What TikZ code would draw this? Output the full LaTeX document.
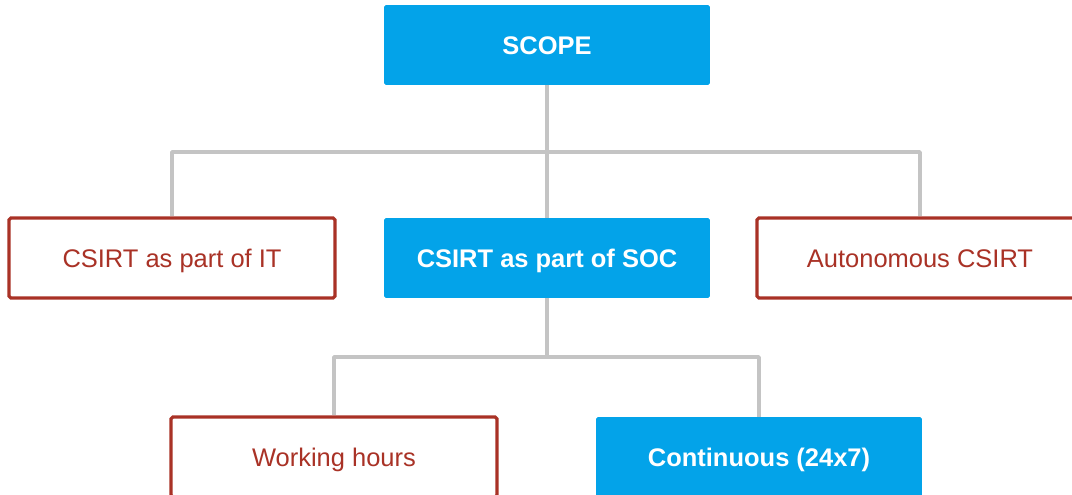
\documentclass[tikz,border=0pt]{standalone}
\usepackage{fontspec}
\setmainfont{Liberation Sans}
\usepackage{xcolor}
\usepackage{tikz}
\usetikzlibrary{positioning}

\definecolor{scopeblue}{HTML}{03A3E9}
\definecolor{optred}{HTML}{A93226}
\definecolor{linkgray}{HTML}{C4C4C4}

\begin{document}
\begin{tikzpicture}[x=0.02cm, y=-0.02cm,
    box/.style={rectangle, minimum width=6.52cm, minimum height=1.6cm, rounded corners=1pt, text height=10.4pt, text depth=0pt, font=\fontsize{14.5}{17}\selectfont},
    bluebox/.style={box, fill=scopeblue, text=white, font=\fontsize{14.5}{17}\selectfont\bfseries},
    redbox/.style={box, draw=optred, line width=1.8pt, fill=white, text=optred},
    link/.style={draw=linkgray, line width=2.1pt, line join=round}]
  \useasboundingbox (0,0) rectangle (1072,494);
  \clip (0,0) rectangle (1072,494);

  % nodes
  \node[bluebox] (scope) at (547,45) {SCOPE};
  \node[redbox] (it) at (172,258) {CSIRT as part of IT};
  \node[bluebox] (soc) at (547,258) {CSIRT as part of SOC};
  \node[redbox] (auto) at (920,258) {Autonomous CSIRT};
  \node[redbox] (work) at (334,457) {Working hours};
  \node[bluebox] (cont) at (759,457) {Continuous (24x7)};

  \coordinate (top) at (547,152);
  \coordinate (mid) at (547,357);

  % connectors
  \draw[link] (scope.south) -- (soc.north);
  \draw[link] (it.north) |- (top) -| (auto.north);
  \draw[link] (soc.south) -- (mid);
  \draw[link] (work.north) |- (mid) -| (cont.north);
\end{tikzpicture}
\end{document}
